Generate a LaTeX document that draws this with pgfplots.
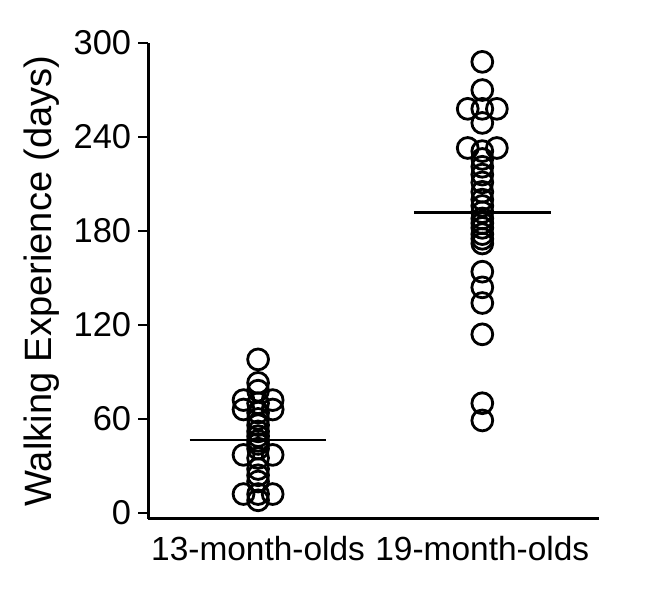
\documentclass[border=0pt]{standalone}
\usepackage{fontspec}
\setmainfont{Liberation Sans}
\usepackage{pgfplots}
\pgfplotsset{compat=1.18}

\begin{document}
\begin{tikzpicture}
\begin{axis}[
  scale only axis,
  width=225pt, height=237.5pt,
  xmin=0.51, xmax=2.52,
  ymin=-3.8, ymax=300,
  axis x line=bottom, axis y line=left,
  axis line style={line width=1.3pt, -},
  ytick={0,60,120,180,240,300},
  xtick={1,2},
  xticklabels={13-month-olds,19-month-olds},
  x tick style={draw=none},
  y tick style={line width=1.3pt, black},
  tick align=outside,
  major tick length=5pt,
  /pgf/number format/assume math mode=true,
  yticklabel style={font=\fontsize{17.2}{20}\selectfont},
  xticklabel style={font=\fontsize{16.7}{20}\selectfont},
  ylabel={Walking Experience (days)},
  ylabel style={font=\fontsize{19}{22}\selectfont},
  clip=false,
]
  % 13-month-olds
  \addplot[only marks, mark=o, mark size=5.2pt, line width=1.4pt, black] coordinates {
    (1,98) (1,83) (1,78) (0.935,72) (1.065,72) (1,70)
    (0.935,66) (1.065,66) (1,64) (1,60) (1,56) (1,52)
    (1,49) (1,46) (1,44) (1,41) (0.935,37) (1.065,37)
    (1,35) (1,28) (1,24) (1,20) (0.935,12) (1.065,12)
    (1,12) (1,8)
  };
  % 19-month-olds
  \addplot[only marks, mark=o, mark size=5.2pt, line width=1.4pt, black] coordinates {
    (2,288) (2,270) (1.935,258) (2,258) (2.065,258) (2,249)
    (1.935,233) (2.065,233) (2,231) (2,226) (2,221) (2,216)
    (2,211) (2,205) (2,200) (2,196) (2,192) (2,188)
    (2,185) (2,182) (2,178) (2,175) (2,172) (2,154)
    (2,144) (2,134) (2,114) (2,70) (2,59)
  };
  % group means
  \addplot[black, line width=1.35pt] coordinates {(0.695,46.6) (1.305,46.6)};
  \addplot[black, line width=1.35pt] coordinates {(1.695,192) (2.305,192)};
\end{axis}
\path (current axis.south west) ++(-74pt,-39.5pt) rectangle ([xshift=35pt,yshift=21.5pt]current axis.north east);
\end{tikzpicture}
\end{document}
